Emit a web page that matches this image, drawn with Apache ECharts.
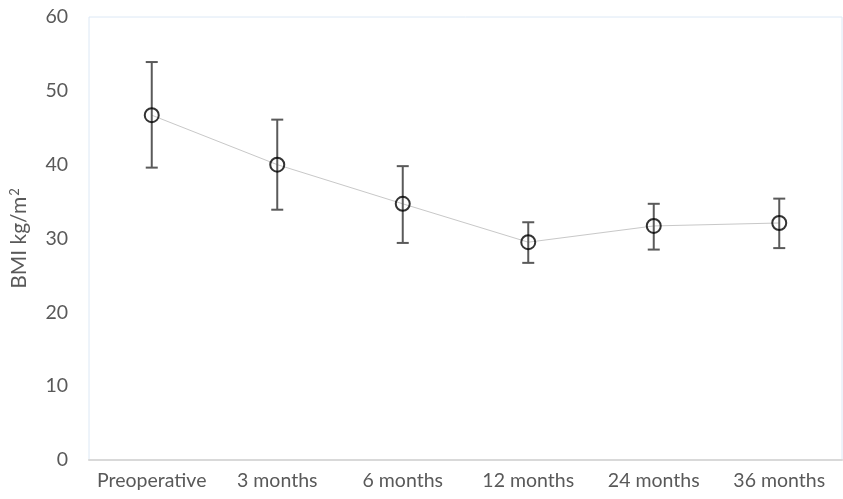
<!DOCTYPE html>
<html><head><meta charset="utf-8">
<script src="https://cdn.jsdelivr.net/npm/echarts@6/dist/echarts.min.js"></script>
<style>html,body{margin:0;padding:0;background:#fff}#c{width:843px;height:499px}</style>
</head><body><div id="c"></div>
<script>
const categories = ['Preoperative','3 months','6 months','12 months','24 months','36 months'];
const meanBMI = [46.7, 40.0, 34.7, 29.5, 31.7, 32.1];
const upperBMI = [53.9, 46.1, 39.8, 32.2, 34.7, 35.4];
const lowerBMI = [39.6, 33.9, 29.4, 26.7, 28.5, 28.7];
const yTicks = [0, 10, 20, 30, 40, 50, 60];

const errData = categories.map((c, i) => [i, lowerBMI[i], upperBMI[i]]);
const chart = echarts.init(document.getElementById('c'));
const font = 'Lato, "Open Sans", sans-serif';
chart.setOption({
  animation: false,
  grid: { left: 89, right: 1, top: 17, bottom: 39, show: true, borderColor: '#dce8f5', borderWidth: 1, backgroundColor: '#fff' },
  xAxis: {
    type: 'category', data: categories, boundaryGap: true,
    axisLine: { show: true, lineStyle: { color: '#d9d9d9', width: 2 } },
    axisTick: { show: false },
    axisLabel: { color: '#595959', fontSize: 19.5, fontFamily: font, margin: 11, interval: 0 }
  },
  yAxis: {
    type: 'value', min: yTicks[0], max: yTicks[yTicks.length - 1], interval: 10,
    name: '{n|BMI kg/m}{sup|2}', nameLocation: 'middle', nameRotate: 90, nameGap: 58,
    nameTextStyle: { color: '#595959', fontSize: 21, fontFamily: font,
      rich: {
        n: { fontSize: 21, color: '#595959', fontFamily: font },
        sup: { fontSize: 13, color: '#595959', fontFamily: font, verticalAlign: 'top', padding: [0, 0, 10, 1] }
      } },
    axisLine: { show: false }, axisTick: { show: false }, splitLine: { show: false },
    axisLabel: { color: '#595959', fontSize: 19.5, fontFamily: font, margin: 21 }
  },
  series: [
    {
      type: 'line', data: meanBMI, z: 2,
      lineStyle: { color: '#c8c8c8', width: 1 },
      symbol: 'circle', symbolSize: 0, showSymbol: false
    },
    {
      type: 'custom', z: 3, data: errData,
      renderItem: function (params, api) {
        const x = api.value(0);
        const lo = api.coord([x, api.value(1)]);
        const hi = api.coord([x, api.value(2)]);
        const hw = 6;
        const st = { stroke: '#5a5a5a', lineWidth: 2 };
        return { type: 'group', children: [
          { type: 'line', shape: { x1: lo[0], y1: lo[1], x2: hi[0], y2: hi[1] }, style: st },
          { type: 'line', shape: { x1: lo[0]-hw, y1: lo[1], x2: lo[0]+hw, y2: lo[1] }, style: st },
          { type: 'line', shape: { x1: hi[0]-hw, y1: hi[1], x2: hi[0]+hw, y2: hi[1] }, style: st }
        ]};
      }
    },
    {
      type: 'scatter', data: meanBMI, z: 4,
      symbol: 'circle', symbolSize: 14,
      itemStyle: { color: 'rgba(255,255,255,0)', borderColor: '#000', borderWidth: 2 }
    }
  ]
});
</script></body></html>
